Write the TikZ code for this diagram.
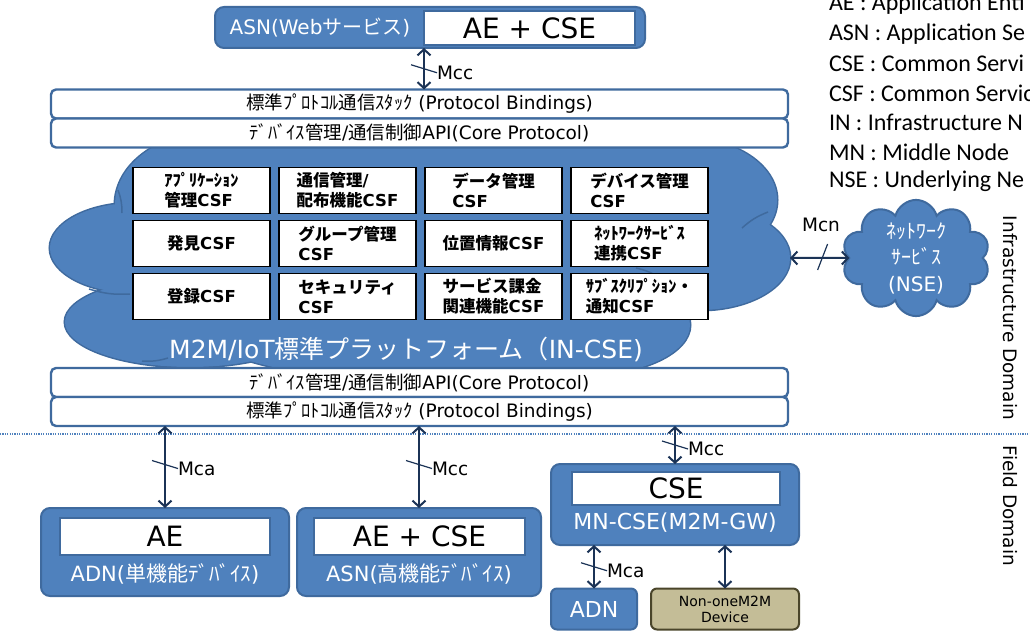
\documentclass[tikz,border=0pt]{standalone}
\usepackage{fontspec}
\setmainfont{DejaVu Sans}
\newfontfamily\jpfont{Noto Sans CJK JP}
\newfontfamily\legendfont{Carlito}
\newcommand\ja[1]{{\jpfont#1}}
\usetikzlibrary{arrows.meta,positioning,calc,shapes.symbols}
\definecolor{iotblue}{HTML}{4F81BD}
\definecolor{iotedge}{HTML}{3F6A9E}
\definecolor{navy}{HTML}{1B3356}
\definecolor{devtan}{HTML}{C4BD97}
\definecolor{tanedge}{HTML}{4A452A}

\begin{document}
\begin{tikzpicture}[x=1pt,y=-1pt,every node/.style={inner sep=0pt,outer sep=0pt},
  bar/.style={draw=iotedge,line width=2.4pt,fill=white,rounded corners=5pt,minimum width=737pt,minimum height=29pt,font=\fontsize{18.5}{20}\selectfont},
  csf/.style={draw=black,line width=1.4pt,fill=white,minimum width=137pt,minimum height=46pt,align=left,font=\bfseries\fontsize{16.5}{20}\selectfont},
  devbox/.style={draw=iotedge,line width=2pt,fill=iotblue,rounded corners=9pt},
  inbox/.style={draw=iotedge,line width=2pt,fill=white,font=\fontsize{28}{30}\selectfont},
  devname/.style={text=white,font=\fontsize{21}{22}\selectfont},
  cloudedge/.style={draw=iotedge,line width=3pt},
  conn/.style={{Straight Barb[length=6pt,width=13pt]}-{Straight Barb[length=6pt,width=13pt]},line width=2pt,draw=navy},
  tick/.style={draw=navy,line width=1.2pt},
  lbl/.style={anchor=west,font=\fontsize{18.5}{20}\selectfont},
  legend/.style={anchor=west,font=\legendfont\fontsize{24}{26}\selectfont}]
\useasboundingbox (0,0) rectangle (1030,631);
\clip (0,0) rectangle (1030,631);

% IN-CSE cloud, drawn as a union of puffs
\foreach \cx/\cy/\rx/\ry in {210/205/95/72,135/248/85/45,190/322/125/45,420/258/300/125,420/170/280/45,685/200/92/62,700/258/90/52,585/325/105/50}
  \draw[cloudedge] (\cx,\cy) ellipse [x radius=\rx,y radius=\ry];
\foreach \cx/\cy/\rx/\ry in {210/205/95/72,135/248/85/45,190/322/125/45,420/258/300/125,420/170/280/45,685/200/92/62,700/258/90/52,585/325/105/50}
  \fill[iotblue] (\cx,\cy) ellipse [x radius=\rx,y radius=\ry];
\draw[iotedge,line width=1.5pt] (118,190) to[bend left=10] (122,213);
\draw[iotedge,line width=1.5pt] (89,289) to[bend right=10] (130,294);
\draw[iotedge,line width=1.5pt] (142,361) to[bend right=10] (168,358);
\draw[iotedge,line width=1.5pt] (742,228) to[bend left=10] (768,212);
\draw[iotedge,line width=1.5pt] (636,268) to[bend left=10] (660,278);
\coordinate (incseeast) at (790,258);
\node[text=white,font=\fontsize{25}{27}\selectfont] (incsetxt) at (406,349) {M2M/IoT\ja{標準プラットフォーム（}IN-CSE)};

% protocol layers
\node[bar] (pbtop) at (419.5,104) {\ja{標準ﾌﾟﾛﾄｺﾙ通信ｽﾀｯｸ} (Protocol Bindings)};
\node[bar,below=0pt of pbtop] (coretop) {\ja{ﾃﾞﾊﾞｲｽ管理}/\ja{通信制御}API(Core Protocol)};
\node[bar] (corebot) at (419.5,382.5) {\ja{ﾃﾞﾊﾞｲｽ管理}/\ja{通信制御}API(Core Protocol)};
\node[bar,below=0pt of corebot] (pbbot) {\ja{標準ﾌﾟﾛﾄｺﾙ通信ｽﾀｯｸ} (Protocol Bindings)};

% CSF grid
\node[csf] (appcsf) at (201.5,190.5) {\ja{ｱﾌﾟﾘｹｰｼｮﾝ}\\\ja{管理}CSF};
\node[csf,right=9pt of appcsf] (comcsf) {\ja{通信管理}/\\\ja{配布機能}CSF};
\node[csf,right=9pt of comcsf] (datacsf) {\ja{データ管理}\\CSF};
\node[csf,right=9pt of datacsf] (devcsf) {\ja{デバイス管理}\\CSF};
\node[csf,below=7pt of appcsf] (discsf) {\ja{発見}CSF};
\node[csf,right=9pt of discsf] (grpcsf) {\ja{グループ管理}\\CSF};
\node[csf,right=9pt of grpcsf] (loccsf) {\ja{位置情報}CSF};
\node[csf,right=9pt of loccsf] (netcsf) {\ja{ﾈｯﾄﾜｰｸｻｰﾋﾞｽ}\\\ja{連携}CSF};
\node[csf,below=7pt of discsf] (regcsf) {\ja{登録}CSF};
\node[csf,right=9pt of regcsf] (seccsf) {\ja{セキュリティ}\\CSF};
\node[csf,right=9pt of seccsf] (chgcsf) {\ja{サービス課金}\\\ja{関連機能}CSF};
\node[csf,right=9pt of chgcsf] (subcsf) {\ja{ｻﾌﾞｽｸﾘﾌﾟｼｮﾝ・}\\\ja{通知}CSF};

% application service node on top
\node[devbox,minimum width=430pt,minimum height=41pt] (topasn) at (430,27.5) {};
\node[devname,font=\fontsize{20}{22}\selectfont] (topasntxt) at (320,28) {ASN(Web\ja{サービス})};
\node[inbox,minimum width=211pt,minimum height=34pt] (topae) at (529.5,28) {AE + CSE};
\draw[conn] (topasn.south -| topae.west) -- coordinate[pos=.5] (mcctop) (pbtop.north -| topae.west);
\draw[tick] ($(mcctop)+(-13,-4)$) -- ($(mcctop)+(13,4)$) node[lbl] {Mcc};

% network service entity
\node[cloud,cloud puffs=10,cloud ignores aspect,minimum width=148pt,minimum height=88pt,fill=iotblue,draw=iotedge,line width=2pt,text=white,align=center,font=\fontsize{20}{26.5}\selectfont] (nse) at (916,258) {\ja{ﾈｯﾄﾜｰｸ}\\\ja{ｻｰﾋﾞｽ}\\(NSE)};
\draw[conn] (incseeast) -- coordinate[pos=.55] (mcnmid) (nse.west);
\draw[tick] ($(mcnmid)+(5,-14)$) -- ($(mcnmid)+(-5,12)$);
\node[font=\fontsize{18.5}{20}\selectfont] (mcnlbl) at (821,225) {Mcn};

% domains
\draw[iotblue,line width=1.2pt,dash pattern=on 1.2pt off 1.2pt] (0,434) -- (1030,434);
\node[rotate=-90,font=\fontsize{18.5}{20}\selectfont] (infra) at (1010,318) {Infrastructure Domain};
\node[rotate=-90,font=\fontsize{18.5}{20}\selectfont] (field) at (1010,506) {Field Domain};

% field domain nodes
\node[devbox,minimum width=248pt,minimum height=88pt] (adnbox) at (165,552) {};
\node[inbox,minimum width=210pt,minimum height=37pt] (adnae) at (165,536.5) {AE};
\node[devname] (adntxt) at (165,574) {ADN(\ja{単機能ﾃﾞﾊﾞｲｽ})};
\node[devbox,minimum width=244pt,minimum height=88pt] (asnbox) at (419,552) {};
\node[inbox,minimum width=211pt,minimum height=37pt] (asnae) at (419.5,536.5) {AE + CSE};
\node[devname] (asntxt) at (419,574) {ASN(\ja{高機能ﾃﾞﾊﾞｲｽ})};
\node[devbox,minimum width=248pt,minimum height=81pt] (mnbox) at (675,504.5) {};
\node[inbox,minimum width=208pt,minimum height=33pt] (mncse) at (676,488.5) {CSE};
\node[devname,font=\fontsize{22}{24}\selectfont] (mntxt) at (675,523) {MN-CSE(M2M-GW)};
\node[devbox,rounded corners=6pt,minimum width=86pt,minimum height=41pt,text=white,font=\fontsize{22}{24}\selectfont] (adnsm) at (594,609) {ADN};
\node[draw=tanedge,line width=2pt,fill=devtan,rounded corners=6pt,minimum width=148pt,minimum height=41pt,align=center,font=\fontsize{14}{16}\selectfont] (nonm2m) at (725,609) {Non-oneM2M\\Device};

\draw[conn] (adnbox.north |- pbbot.south) -- coordinate[pos=.47] (mcaleft) (adnbox.north);
\draw[tick] ($(mcaleft)+(-13,-4)$) -- ($(mcaleft)+(13,4)$) node[lbl] {Mca};
\draw[conn] (asnbox.north |- pbbot.south) -- coordinate[pos=.47] (mccmid) (asnbox.north);
\draw[tick] ($(mccmid)+(-13,-4)$) -- ($(mccmid)+(13,4)$) node[lbl] {Mcc};
\draw[conn] (mnbox.north |- pbbot.south) -- coordinate[pos=.5] (mccright) (mnbox.north);
\draw[tick] ($(mccright)+(-13,-4)$) -- ($(mccright)+(13,4)$) node[lbl] {Mcc};
\draw[conn] (mnbox.south -| adnsm.north) -- coordinate[pos=.5] (mcaright) (adnsm.north);
\draw[tick] ($(mcaright)+(-13,-4)$) -- ($(mcaright)+(13,4)$) node[lbl] {Mca};
\draw[conn] (mnbox.south -| nonm2m.north) -- (nonm2m.north);

% legend
\node[legend] (lgae) at (829,4.5) {AE : Application Enti};
\node[legend] (lgasn) at (829,34) {ASN : Application Se};
\node[legend] (lgcse) at (829,63.5) {CSE : Common Servi};
\node[legend] (lgcsf) at (829,93) {CSF : Common Servic};
\node[legend] (lgin) at (829,122.5) {IN : Infrastructure N};
\node[legend] (lgmn) at (829,152) {MN : Middle Node};
\node[legend] (lgnse) at (829,181.5) {NSE : Underlying Ne};
\end{tikzpicture}
\end{document}
